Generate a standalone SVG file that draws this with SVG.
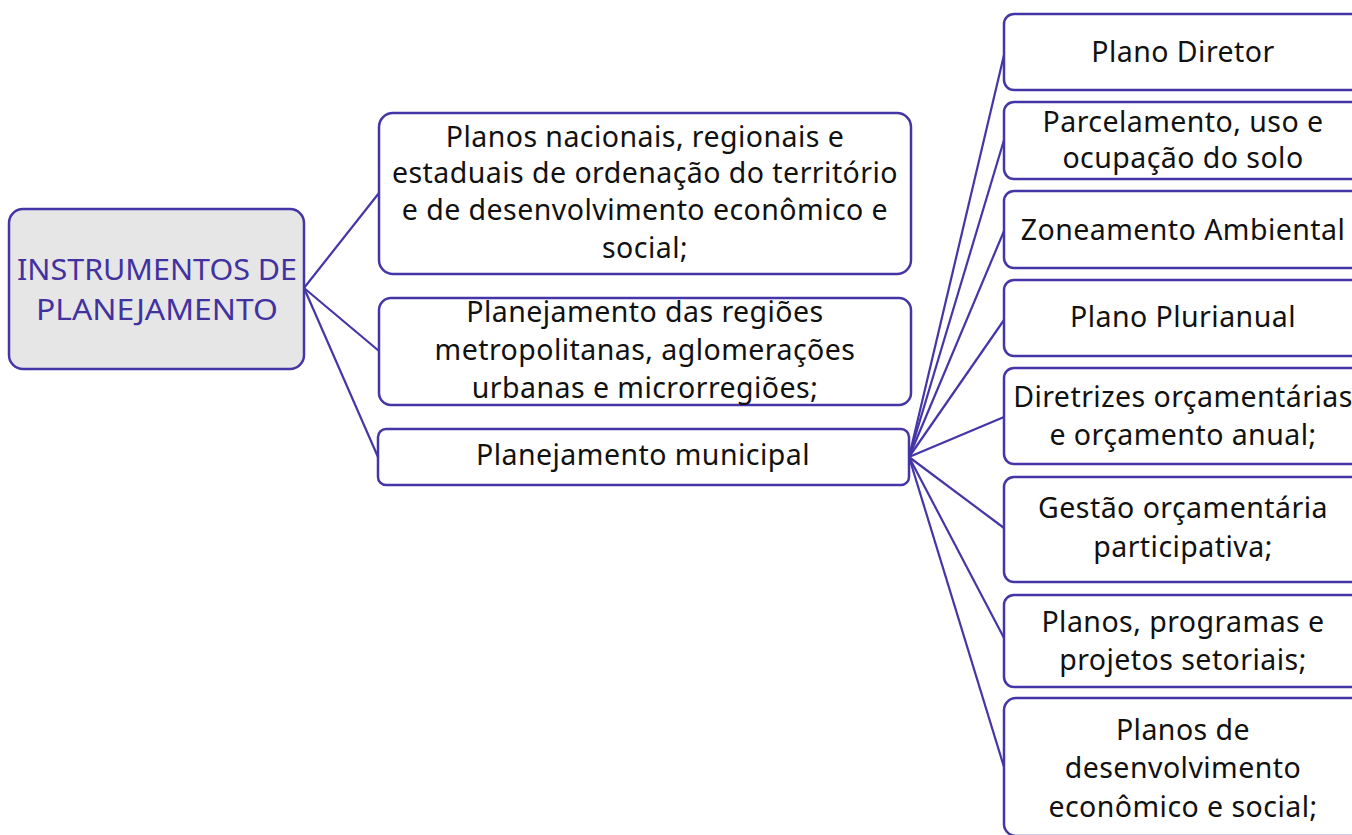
<svg xmlns="http://www.w3.org/2000/svg" width="1352" height="835" viewBox="0 0 1352 835">
<style>
.box{fill:#ffffff;stroke:#4536a8;stroke-width:2.5}
.root{fill:#e6e6e6;stroke:#4536a8;stroke-width:2.5}
.t{font-family:"Noto Sans",Lato,sans-serif;font-size:28.5px;letter-spacing:0.45px;fill:#111111;text-anchor:middle}
.rt{font-family:"Noto Sans",Lato,sans-serif;font-size:29px;fill:#4232a0;text-anchor:middle}
.c{stroke:#4536a8;stroke-width:2.2;fill:none}
</style>
<rect width="1352" height="835" fill="#ffffff"/>
<g id="connectors">
<line class="c" x1="304" y1="288" x2="379" y2="193"/>
<line class="c" x1="304" y1="288" x2="379" y2="351"/>
<line class="c" x1="304" y1="288" x2="378" y2="457"/>
<line class="c" x1="909" y1="457" x2="1004" y2="55"/>
<line class="c" x1="909" y1="457" x2="1004" y2="140"/>
<line class="c" x1="909" y1="457" x2="1004" y2="231"/>
<line class="c" x1="909" y1="457" x2="1004" y2="320"/>
<line class="c" x1="909" y1="457" x2="1004" y2="417"/>
<line class="c" x1="909" y1="457" x2="1004" y2="528"/>
<line class="c" x1="909" y1="457" x2="1004" y2="638"/>
<line class="c" x1="909" y1="457" x2="1004" y2="767"/>
</g>
<g id="root">
<rect class="root" x="9" y="209" width="295" height="160" rx="14"/>
<text class="rt" x="157" y="280" textLength="280" lengthAdjust="spacingAndGlyphs">INSTRUMENTOS DE</text>
<text class="rt" x="157" y="320" textLength="242" lengthAdjust="spacingAndGlyphs">PLANEJAMENTO</text>
</g>
<g id="n1">
<rect class="box" x="379" y="113" width="532" height="161" rx="14"/>
<text class="t" x="645" y="147">Planos nacionais, regionais e</text>
<text class="t" x="645" y="183">estaduais de ordenação do território</text>
<text class="t" x="645" y="220">e de desenvolvimento econômico e</text>
<text class="t" x="645" y="258">social;</text>
</g>
<g id="n2">
<rect class="box" x="379" y="298" width="532" height="107" rx="12"/>
<text class="t" x="645" y="322">Planejamento das regiões</text>
<text class="t" x="645" y="360">metropolitanas, aglomerações</text>
<text class="t" x="645" y="398">urbanas e microrregiões;</text>
</g>
<g id="n3">
<rect class="box" x="378" y="429" width="531" height="56" rx="8"/>
<text class="t" x="643" y="465">Planejamento municipal</text>
</g>
<g id="r1">
<rect class="box" x="1004" y="14" width="360" height="76" rx="10"/>
<text class="t" x="1183" y="62">Plano Diretor</text>
</g>
<g id="r2">
<rect class="box" x="1004" y="102" width="360" height="77" rx="10"/>
<text class="t" x="1183" y="132">Parcelamento, uso e</text>
<text class="t" x="1183" y="168">ocupação do solo</text>
</g>
<g id="r3">
<rect class="box" x="1004" y="191" width="360" height="77" rx="10"/>
<text class="t" x="1183" y="240">Zoneamento Ambiental</text>
</g>
<g id="r4">
<rect class="box" x="1004" y="280" width="360" height="76" rx="10"/>
<text class="t" x="1183" y="327">Plano Plurianual</text>
</g>
<g id="r5">
<rect class="box" x="1004" y="368" width="360" height="96" rx="10"/>
<text class="t" x="1183" y="407">Diretrizes orçamentárias</text>
<text class="t" x="1183" y="445">e orçamento anual;</text>
</g>
<g id="r6">
<rect class="box" x="1004" y="477" width="360" height="105" rx="10"/>
<text class="t" x="1183" y="518">Gestão orçamentária</text>
<text class="t" x="1183" y="557">participativa;</text>
</g>
<g id="r7">
<rect class="box" x="1004" y="595" width="360" height="92" rx="10"/>
<text class="t" x="1183" y="632">Planos, programas e</text>
<text class="t" x="1183" y="670">projetos setoriais;</text>
</g>
<g id="r8">
<rect class="box" x="1004" y="698" width="360" height="138" rx="12"/>
<text class="t" x="1183" y="740">Planos de</text>
<text class="t" x="1183" y="778">desenvolvimento</text>
<text class="t" x="1183" y="817">econômico e social;</text>
</g>
</svg>
